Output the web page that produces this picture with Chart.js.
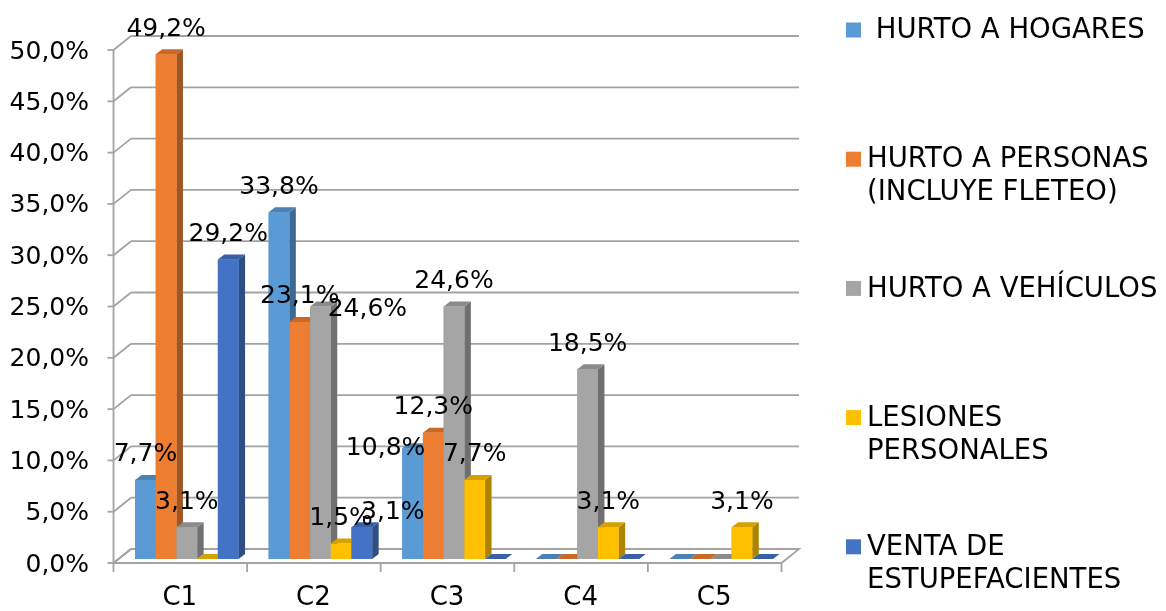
<!DOCTYPE html>
<html><head><meta charset="utf-8">
<script src="https://cdn.jsdelivr.net/npm/chart.js@4.4.0/dist/chart.umd.min.js"></script>
<style>html,body{margin:0;padding:0;background:#fff;}#wrap{width:1166px;height:611px;}</style>
</head><body><div id="wrap"><canvas id="c" width="1166" height="611"></canvas></div>
<script>
// ---- data ----
const categories = ['C1', 'C2', 'C3', 'C4', 'C5'];
const seriesNames = [' HURTO A HOGARES', 'HURTO A PERSONAS\n(INCLUYE FLETEO)', 'HURTO A VEHÍCULOS', 'LESIONES\nPERSONALES', 'VENTA DE\nESTUPEFACIENTES'];
const hurtoHogares = [7.7, 33.8, 10.8, 0, 0];
const hurtoPersonas = [49.2, 23.1, 12.3, 0, 0];
const hurtoVehiculos = [3.1, 24.6, 24.6, 18.5, 0];
const lesionesPersonales = [0, 1.5, 7.7, 3.1, 3.1];
const ventaEstupefacientes = [29.2, 3.1, 0, 0, 0];
const seriesColors = ['#5B9BD5', '#ED7D31', '#A5A5A5', '#FFC000', '#4472C4'];

const FONT = 'DejaVu Sans';
const fmt = v => v.toFixed(1).replace('.', ',') + '%';

function shade(hex, f) {
  const n = parseInt(hex.slice(1), 16);
  const r = Math.round(((n >> 16) & 255) * f), g = Math.round(((n >> 8) & 255) * f), b = Math.round((n & 255) * f);
  return `rgb(${r},${g},${b})`;
}

const FRONT = { dx: -6.5, dy: 4 }, BACK = { dx: 11, dy: -10 }, DEPTH = { dx: 6.5, dy: -5 };
// label nudges (dataset,index) -> [dx, dy] relative to bar top centre
const labelNudge = { '2,1': [47, 3], '4,1': [31, -15], '0,2': [-27, 0] };

const frame3d = {
  id: 'frame3d',
  beforeDatasetsDraw(chart) {
    const { ctx, chartArea: a, scales: { x, y } } = chart;
    ctx.save();
    ctx.strokeStyle = '#a3a3a3';
    ctx.lineWidth = 1.8;
    const line = (x1, y1, x2, y2) => { ctx.beginPath(); ctx.moveTo(x1, y1); ctx.lineTo(x2, y2); ctx.stroke(); };
    const y0 = y.getPixelForValue(0);
    // floor
    ctx.fillStyle = '#ffffff';
    ctx.beginPath();
    ctx.moveTo(a.left + FRONT.dx, y0 + FRONT.dy);
    ctx.lineTo(a.right + FRONT.dx, y0 + FRONT.dy);
    ctx.lineTo(a.right + BACK.dx, y0 + BACK.dy);
    ctx.lineTo(a.left + BACK.dx, y0 + BACK.dy);
    ctx.closePath();
    ctx.fill(); ctx.stroke();
    // gridlines
    y.ticks.forEach(t => {
      const p = y.getPixelForValue(t.value);
      line(a.left + BACK.dx, p + BACK.dy, a.right + BACK.dx, p + BACK.dy);
      line(a.left + FRONT.dx, p + FRONT.dy, a.left + BACK.dx, p + BACK.dy);
      line(a.left + FRONT.dx - 6, p + FRONT.dy, a.left + FRONT.dx, p + FRONT.dy);
    });
    // front vertical axis
    line(a.left + FRONT.dx, y.getPixelForValue(y.max) + FRONT.dy, a.left + FRONT.dx, y0 + FRONT.dy);
    // category ticks
    const w = x.getPixelForValue(1) - x.getPixelForValue(0);
    for (let k = 0; k <= categories.length; k++) {
      const xk = x.getPixelForValue(0) - w / 2 + k * w + FRONT.dx;
      line(xk, y0 + FRONT.dy, xk, y0 + FRONT.dy + 9);
    }
    ctx.restore();
  },
  afterDatasetsDraw(chart) {
    const { ctx } = chart;
    ctx.save();
    const n = chart.data.datasets.length;
    for (let i = 0; i < categories.length; i++) {
      for (let d = 0; d < n; d++) {
        const el = chart.getDatasetMeta(d).data[i];
        const col = chart.data.datasets[d].backgroundColor;
        const x0 = el.x - el.width / 2, x1 = el.x + el.width / 2, top = el.y, base = el.base;
        // side
        ctx.fillStyle = shade(col, 0.68);
        ctx.beginPath();
        ctx.moveTo(x1, top); ctx.lineTo(x1 + DEPTH.dx, top + DEPTH.dy);
        ctx.lineTo(x1 + DEPTH.dx, base + DEPTH.dy); ctx.lineTo(x1, base); ctx.closePath(); ctx.fill();
        // top
        ctx.fillStyle = shade(col, 0.84);
        ctx.beginPath();
        ctx.moveTo(x0, top); ctx.lineTo(x0 + DEPTH.dx, top + DEPTH.dy);
        ctx.lineTo(x1 + DEPTH.dx, top + DEPTH.dy); ctx.lineTo(x1, top); ctx.closePath(); ctx.fill();
        // front
        ctx.fillStyle = col;
        ctx.fillRect(x0, top, x1 - x0, base - top);
      }
    }
    // data labels
    ctx.font = `25px "${FONT}"`;
    ctx.fillStyle = '#000';
    ctx.textAlign = 'center';
    ctx.textBaseline = 'middle';
    for (let d = 0; d < n; d++) {
      const vals = chart.data.datasets[d].data;
      chart.getDatasetMeta(d).data.forEach((el, i) => {
        if (!vals[i]) return;
        const nudge = labelNudge[d + ',' + i] || [0, -25];
        ctx.fillText(fmt(vals[i]), el.x + nudge[0], el.y + nudge[1]);
      });
    }
    ctx.restore();
  },
  afterDraw(chart) {
    const { ctx } = chart;
    ctx.save();
    ctx.font = `27.5px "${FONT}"`;
    ctx.fillStyle = '#000';
    ctx.textAlign = 'left';
    ctx.textBaseline = 'middle';
    chart.data.datasets.forEach((ds, k) => {
      const cy = 30 + k * 129.2;
      ctx.fillStyle = ds.backgroundColor;
      ctx.fillRect(846, cy - 7.5, 15, 15);
      ctx.fillStyle = '#000';
      ds.label.split('\n').forEach((ln, j) => ctx.fillText(ln, 867, cy + 1 + j * 33));
    });
    ctx.restore();
  }
};

const seriesValues = [hurtoHogares, hurtoPersonas, hurtoVehiculos, lesionesPersonales, ventaEstupefacientes];

new Chart(document.getElementById('c'), {
  type: 'bar',
  data: {
    labels: categories,
    datasets: seriesValues.map((vals, k) => ({
      label: seriesNames[k],
      data: vals,
      backgroundColor: seriesColors[k],
      borderWidth: 0,
      categoryPercentage: 0.775,
      barPercentage: 1.0
    }))
  },
  options: {
    responsive: false,
    animation: false,
    devicePixelRatio: 1,
    layout: { padding: { top: 45.5, right: 378, bottom: 0, left: 0 } },
    plugins: { legend: { display: false }, tooltip: { enabled: false } },
    scales: {
      x: {
        grid: { display: false },
        border: { display: false },
        ticks: { font: { family: FONT, size: 26 }, color: '#000', labelOffset: -7, padding: 16 },
        afterFit: s => { s.height = 52; }
      },
      y: {
        min: 0, max: 50,
        grid: { display: false, drawTicks: false },
        border: { display: false },
        ticks: { stepSize: 5, font: { family: FONT, size: 25 }, color: '#000', padding: 31, labelOffset: 6, callback: v => fmt(v) },
        afterFit: s => { s.width = 120; }
      }
    }
  },
  plugins: [frame3d]
});
</script>
</body></html>
